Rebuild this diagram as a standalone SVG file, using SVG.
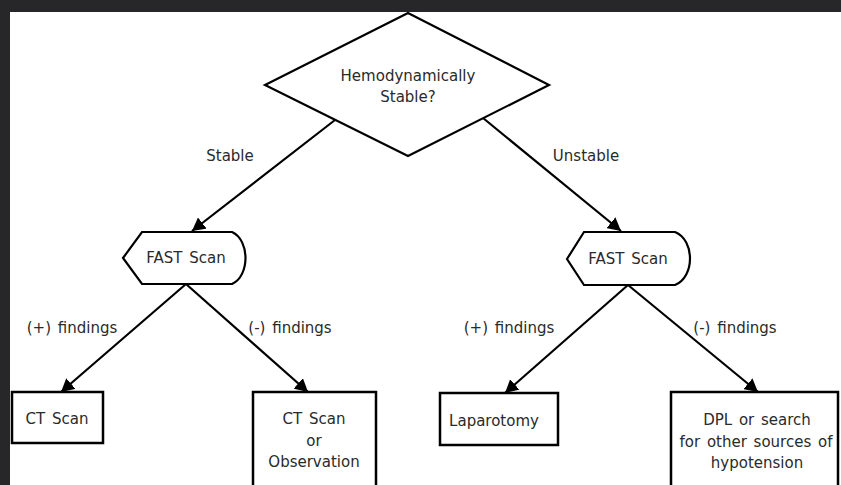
<svg xmlns="http://www.w3.org/2000/svg" width="841" height="485" viewBox="0 0 841 485">
<style>
.shape{fill:#fff;stroke:#000;stroke-width:2.2;}
.box{fill:#fff;stroke:#000;stroke-width:2.5;}
.t{font-family:"DejaVu Sans",Verdana,sans-serif;font-size:15px;word-spacing:2px;fill:#2a2a2a;text-anchor:middle;dominant-baseline:central;}
.c{stroke:#000;stroke-width:2.2;fill:none;marker-end:url(#ah);}
</style>
<defs>
<marker id="ah" markerUnits="userSpaceOnUse" markerWidth="14" markerHeight="14" refX="13" refY="7" orient="auto">
<path d="M0,0 L13,7 L0,14 Z" fill="#000"/>
</marker>
</defs>
<rect x="0" y="0" width="841" height="485" fill="#27272a"/>
<rect x="10" y="12" width="831" height="473" fill="#fff"/>

<g id="connectors">
<line class="c" x1="335" y1="120" x2="192" y2="231"/>
<line class="c" x1="483" y1="118" x2="621" y2="231"/>
<line class="c" x1="186" y1="284" x2="61" y2="392"/>
<line class="c" x1="186" y1="284" x2="308" y2="392"/>
<line class="c" x1="628" y1="285" x2="505" y2="393"/>
<line class="c" x1="628" y1="285" x2="758" y2="392"/>
<text class="t" x="230" y="156">Stable</text>
<text class="t" x="586" y="156">Unstable</text>
<text class="t" x="72" y="328">(+) findings</text>
<text class="t" x="290" y="328">(-) findings</text>
<text class="t" x="509" y="328">(+) findings</text>
<text class="t" x="735" y="328">(-) findings</text>
</g>

<g id="decision">
<polygon class="shape" points="408,13 549,85 408,156 265,85"/>
<text class="t" x="408" y="76">Hemodynamically</text>
<text class="t" x="408" y="97">Stable?</text>
</g>

<g id="fast-left">
<path class="shape" d="M123,258 L142,232 L232,232 C250,240 250,276 232,284 L142,284 Z"/>
<text class="t" x="186" y="258">FAST Scan</text>
</g>

<g id="fast-right">
<path class="shape" d="M567,259 L584,232 L675,232 C695,240 695,277 675,285 L584,285 Z"/>
<text class="t" x="628" y="259">FAST Scan</text>
</g>

<g id="ct-scan">
<rect class="box" x="12" y="392" width="91" height="51"/>
<text class="t" x="57" y="419">CT Scan</text>
</g>

<g id="ct-or-obs">
<rect class="box" x="253" y="392" width="123" height="100"/>
<text class="t" x="314" y="419">CT Scan</text>
<text class="t" x="314" y="441">or</text>
<text class="t" x="314" y="462">Observation</text>
</g>

<g id="laparotomy">
<rect class="box" x="440" y="393" width="118" height="52"/>
<text class="t" x="494" y="421">Laparotomy</text>
</g>

<g id="dpl">
<rect class="box" x="671" y="392" width="167" height="100"/>
<text class="t" x="757" y="420">DPL or search</text>
<text class="t" x="756" y="442">for other sources of</text>
<text class="t" x="757" y="463">hypotension</text>
</g>
</svg>
